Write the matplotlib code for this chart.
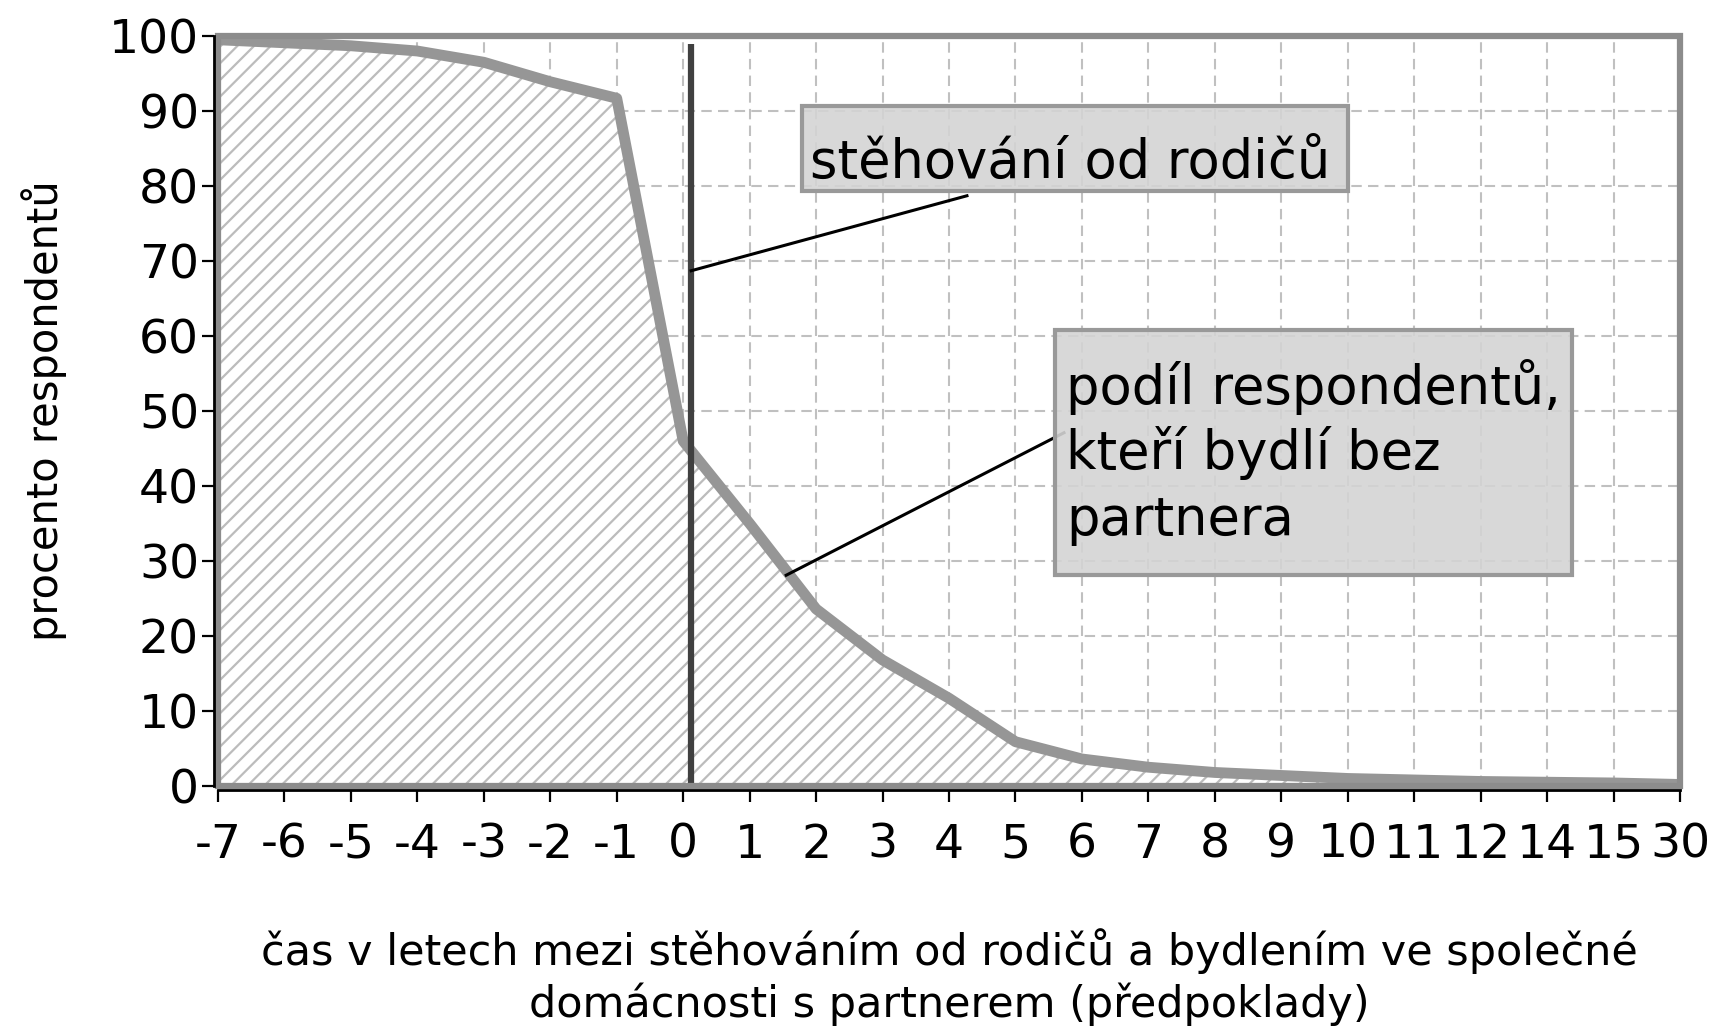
import numpy as np
import matplotlib
matplotlib.use("Agg")
import matplotlib.pyplot as plt
from matplotlib.patches import Rectangle

# years between leaving the parents and living with a partner
years = ["-7", "-6", "-5", "-4", "-3", "-2", "-1", "0", "1", "2", "3", "4",
         "5", "6", "7", "8", "9", "10", "11", "12", "14", "15", "30"]
# share of respondents still living without a partner (%)
share = [99.5, 99.1, 98.7, 98.0, 96.5, 93.9, 91.7, 46.0, 35.0, 23.6, 16.8,
         11.7, 5.9, 3.6, 2.5, 1.8, 1.4, 1.0, 0.8, 0.6, 0.5, 0.4, 0.2]
y_ticks = list(range(0, 101, 10))

move_label = "stěhování od rodičů"
share_label = ["podíl respondentů,", "kteří bydlí bez", "partnera"]
xlabel = ("čas v letech mezi stěhováním od rodičů a bydlením ve společné\n"
          "domácnosti s partnerem (předpoklady)")
ylabel = "procento respondentů"

plt.rcParams["font.family"] = ["DejaVu Sans"]
plt.rcParams["hatch.linewidth"] = 1.6

fig = plt.figure(figsize=(17.11, 10.32), dpi=100)
ax = fig.add_axes([0.1274, 0.2384, 0.8545, 0.7267])

x = np.arange(len(years))
move_x = years.index("0") + 0.12      # moving-out marker sits just right of 0

ax.fill_between(x, share, 0, facecolor="white", edgecolor="#bcbcbc",
                hatch="//", linewidth=0, zorder=2)
ax.plot(x, share, color="#969696", lw=7.8, zorder=3)
ax.vlines(move_x, 0, 99, color="#404040", lw=4.5, zorder=4)

ax.set_xlim(0, len(years) - 1)
ax.set_ylim(0, 100)
ax.set_xticks(x)
ax.set_xticklabels(years)
ax.set_yticks(y_ticks)
ax.set_yticklabels([str(v) for v in y_ticks])
ax.grid(True, color="#c0c0c0", ls=(0, (5, 3)), lw=1.5, zorder=0)
ax.set_axisbelow(True)

# plot-area border + black axes
ax.add_patch(Rectangle((0, 0), 1, 1, transform=ax.transAxes, fill=False,
                       edgecolor="#8c8c8c", lw=4.5, clip_on=False, zorder=5))
for s in ("top", "right"):
    ax.spines[s].set_visible(False)
for s in ("left", "bottom"):
    ax.spines[s].set_color("black")
    ax.spines[s].set_linewidth(2)
    ax.spines[s].set_position(("outward", 3))
    ax.spines[s].set_zorder(6)

ax.tick_params(axis="both", direction="out", length=8.6, width=1.6,
               colors="black", labelsize=34)
ax.tick_params(axis="x", pad=15)
ax.tick_params(axis="y", pad=2)

ax.set_ylabel(ylabel, fontsize=30)
ax.yaxis.set_label_coords(-0.119, 0.5)
ax.yaxis.label.set_va("center")
ax.set_xlabel(xlabel, fontsize=31, linespacing=1.25)
ax.xaxis.set_label_coords(0.5, -0.19)
ax.xaxis.label.set_va("top")

# callout boxes
box_fc = (0.83, 0.83, 0.83, 0.9)
ax.add_patch(Rectangle((0.3995, 0.7933), 0.3734, 0.1134, transform=ax.transAxes,
                       facecolor=box_fc, edgecolor="#999999", lw=3, zorder=7))
ax.text(0.405, 0.8107, move_label, transform=ax.transAxes, fontsize=38,
        va="baseline", ha="left", zorder=8)
ax.plot([move_x, 11.27], [68.7, 78.7], color="black", lw=2.2, zorder=6)

ax.add_patch(Rectangle((0.5725, 0.2813), 0.3536, 0.3267, transform=ax.transAxes,
                       facecolor=box_fc, edgecolor="#999999", lw=3, zorder=7))
for line, yb in zip(share_label, [0.5093, 0.4227, 0.3347]):
    ax.text(0.58, yb, line, transform=ax.transAxes, fontsize=38,
            va="baseline", ha="left", zorder=8)
ax.plot([8.55, 12.73], [28.1, 47.1], color="black", lw=2.2, zorder=6)

fig.savefig("out.png", dpi=100)
